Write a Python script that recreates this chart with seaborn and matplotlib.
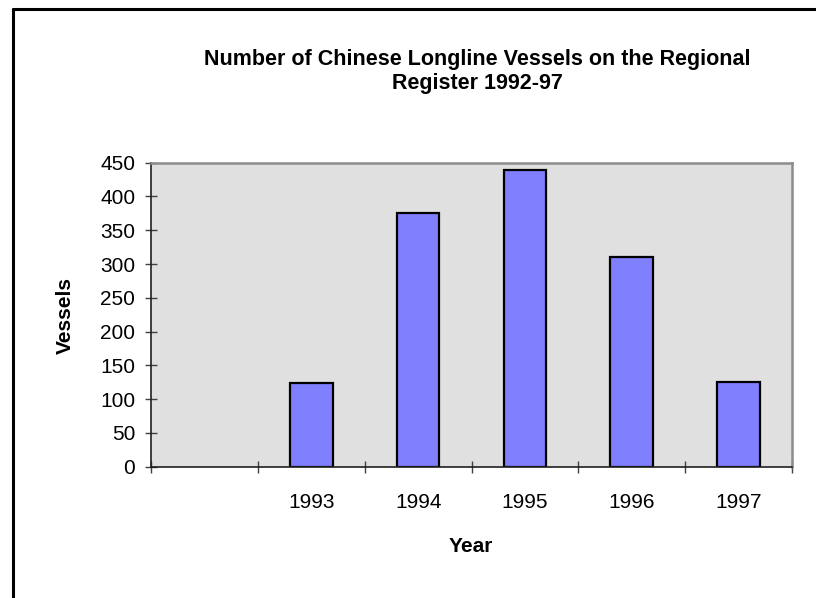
import matplotlib
matplotlib.use("Agg")
import matplotlib.pyplot as plt
import seaborn as sns
import pandas as pd

# Data
years = ["1992", "1993", "1994", "1995", "1996", "1997"]
bar_years = ["1993", "1994", "1995", "1996", "1997"]
vessels = [124, 376, 439, 310, 125]
tick_labels = ["", "1993", "1994", "1995", "1996", "1997"]
y_ticks = [0, 50, 100, 150, 200, 250, 300, 350, 400, 450]

sns.set_style("white")
plt.rcParams["font.family"] = ["Liberation Sans", "DejaVu Sans"]
plt.rcParams["text.color"] = "black"
plt.rcParams["xtick.color"] = "black"
plt.rcParams["ytick.color"] = "black"

df = pd.DataFrame({"Year": bar_years, "Vessels": vessels})

fig = plt.figure(figsize=(8.16, 5.98), dpi=100)
ax = fig.add_axes([151.3 / 816, 1 - 466.7 / 598, 640.4 / 816, 304 / 598])
ax.set_facecolor("#E0E0E0")

sns.barplot(data=df, x="Year", y="Vessels", order=years, color="#8080FF",
            saturation=1, width=0.4, edgecolor="black", linewidth=1.6, ax=ax)

ax.set_ylim(0, 450)
ax.set_xlim(-0.5, len(years) - 0.5)
ax.set_yticks(y_ticks)
ax.set_yticklabels([str(t) for t in y_ticks], fontsize=15)

# boundary ticks between categories, labels centred in categories
ax.set_xticks([i - 0.5 for i in range(len(years) + 1)])
ax.set_xticklabels([])
ax.set_xticks(range(len(years)), minor=True)
ax.set_xticklabels(tick_labels, minor=True, fontsize=15)
ax.tick_params(axis="x", which="minor", bottom=True, length=0, pad=19)
ax.tick_params(axis="x", which="major", bottom=True, direction="inout", length=9,
               width=1, color="#404040")
ax.tick_params(axis="y", left=True, direction="inout", length=9, width=1,
               color="#404040", pad=7)

for s in ["left", "bottom"]:
    ax.spines[s].set_color("#202020")
    ax.spines[s].set_linewidth(1.2)
for s in ["top", "right"]:
    ax.spines[s].set_color("#8C8C8C")
    ax.spines[s].set_linewidth(1.8)

ax.set_xlabel("")
ax.set_ylabel("")
fig.text(471 / 816, 1 - 547 / 598, "Year", ha="center", va="center",
         fontsize=15, fontweight="bold")
fig.text(65 / 816, 1 - 315 / 598, "Vessels", ha="center", va="center",
         rotation=90, fontsize=15, fontweight="bold")
fig.text(477 / 816, 1 - 60 / 598, "Number of Chinese Longline Vessels on the Regional",
         ha="center", va="center", fontsize=15.5, fontweight="bold")
fig.text(477 / 816, 1 - 83 / 598, "Register 1992-97",
         ha="center", va="center", fontsize=15.5, fontweight="bold")

# outer frame (left and top edges only)
fig.add_artist(plt.Line2D([13 / 816, 13 / 816], [0, 1 - 9 / 598], color="black",
                          linewidth=2.2, transform=fig.transFigure))
fig.add_artist(plt.Line2D([13 / 816, 1], [1 - 9 / 598, 1 - 9 / 598], color="black",
                          linewidth=2.2, transform=fig.transFigure))

fig.savefig("out.png", dpi=100)
